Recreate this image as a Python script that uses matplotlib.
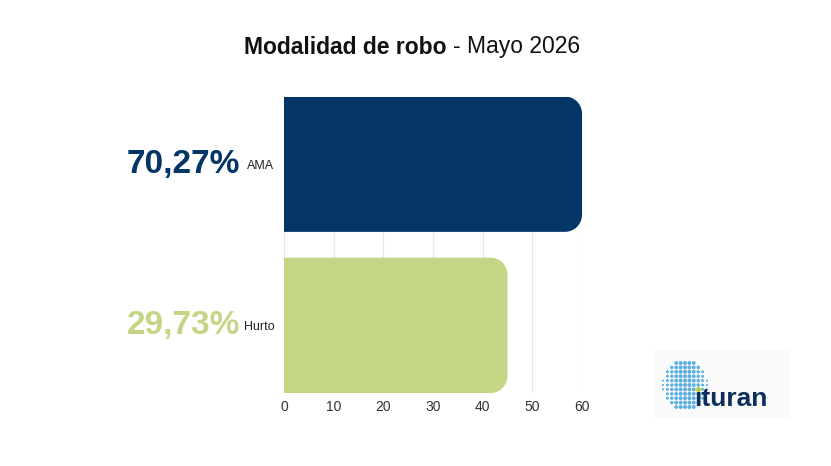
import numpy as np
import matplotlib
matplotlib.use("Agg")
import matplotlib.pyplot as plt
from matplotlib.patches import PathPatch, Rectangle
from matplotlib.path import Path
import matplotlib.transforms as mtransforms

plt.rcParams['font.family'] = ['Liberation Sans', 'DejaVu Sans']

# datos
categorias = ["AMA", "Hurto"]
valores = [60, 45]
porcentajes = ["70,27%", "29,73%"]
colores = ["#033566", "#c4d686"]
ticks_x = [0, 10, 20, 30, 40, 50, 60]

W, H = 831, 466


def barra_redondeada(x0, y0, w, h, rx, ry):
    """rectangulo con las esquinas derechas redondeadas"""
    k = 0.5523
    verts = [(x0, y0), (x0 + w - rx, y0),
             (x0 + w - rx + k * rx, y0), (x0 + w, y0 + ry - k * ry), (x0 + w, y0 + ry),
             (x0 + w, y0 + h - ry),
             (x0 + w, y0 + h - ry + k * ry), (x0 + w - rx + k * rx, y0 + h), (x0 + w - rx, y0 + h),
             (x0, y0 + h), (x0, y0)]
    codes = [Path.MOVETO, Path.LINETO,
             Path.CURVE4, Path.CURVE4, Path.CURVE4,
             Path.LINETO,
             Path.CURVE4, Path.CURVE4, Path.CURVE4,
             Path.LINETO, Path.CLOSEPOLY]
    return Path(verts, codes)


fig = plt.figure(figsize=(W / 100, H / 100), dpi=100)
fig.patch.set_facecolor("white")

ax = fig.add_axes([284 / W, 1 - 393 / H, 298 / W, 296.5 / H])
alto = 0.84
ax.set_xlim(0, 60)
ax.set_ylim(-alto / 2, 1 + alto / 2)

# radio de las esquinas en pixeles -> unidades de datos
r_px = 17
p0 = ax.transData.transform((0, 0))
p1 = ax.transData.transform((1, 1))
r_x = r_px / (p1[0] - p0[0])
r_y = r_px / (p1[1] - p0[1])

posiciones = [1, 0]
for v, col, y in zip(valores, colores, posiciones):
    ax.add_patch(PathPatch(barra_redondeada(0, y - alto / 2, v, alto, r_x, r_y),
                           fc=col, ec="none", zorder=3))

ax.set_xticks(ticks_x)
ax.set_xticklabels([str(t) for t in ticks_x], fontsize=10, color="#333333")
ax.set_yticks(posiciones)
ax.set_yticklabels(categorias, fontsize=9, color="#222222")
ax.tick_params(axis="both", length=0)
ax.tick_params(axis="x", pad=5)
ax.tick_params(axis="y", pad=7)
ax.grid(axis="x", color="#e8e8e8", linewidth=0.9, zorder=0)
ax.set_axisbelow(True)
for s in ax.spines.values():
    s.set_visible(False)

# porcentajes grandes a la izquierda
trans = mtransforms.blended_transform_factory(fig.transFigure, ax.transData)
for pct, col, y in zip(porcentajes, colores, posiciones):
    ax.text(240 / W, y, pct, transform=trans, ha="right", va="center",
            fontsize=24, fontweight="bold", color=col)

# titulo
fig.text(446 / W, 1 - 53.5 / H, "Modalidad de robo", ha="right", va="baseline",
         fontsize=16.5, fontweight="bold", color="#111111")
fig.text(453 / W, 1 - 53.5 / H, "- Mayo 2026", ha="left", va="baseline",
         fontsize=16.5, color="#111111")

# logo ituran (en coordenadas de pixel)
logo = fig.add_axes([0, 0, 1, 1], facecolor="none")
logo.set_xlim(0, W)
logo.set_ylim(H, 0)
logo.axis("off")
logo.add_patch(Rectangle((655, 350), 135, 68, fc="#fafafa", ec="none", zorder=0))
cx, cy, rad = 685, 385, 23
gx, gy = np.meshgrid(np.arange(cx - 22, cx + 23, 4.4), np.arange(cy - 22, cy + 27, 4.4))
d = np.hypot(gx - cx, (gy - cy) * 0.92)
mask = d < rad
tam = 7.0 * (1 - (np.abs(gx - cx) / 24) ** 2) + 1.2
logo.scatter(gx[mask], gy[mask], s=tam[mask], c="#5aaee2", linewidths=0, zorder=2)
logo.text(694.5, 406, "\u0131turan", fontsize=19, color="#0d2e5c", ha="left", va="baseline",
          fontweight="bold", zorder=3)
logo.scatter([698], [388.5], s=13, c="#b6cf2a", linewidths=0, zorder=4)

fig.savefig("out.png", dpi=100)
